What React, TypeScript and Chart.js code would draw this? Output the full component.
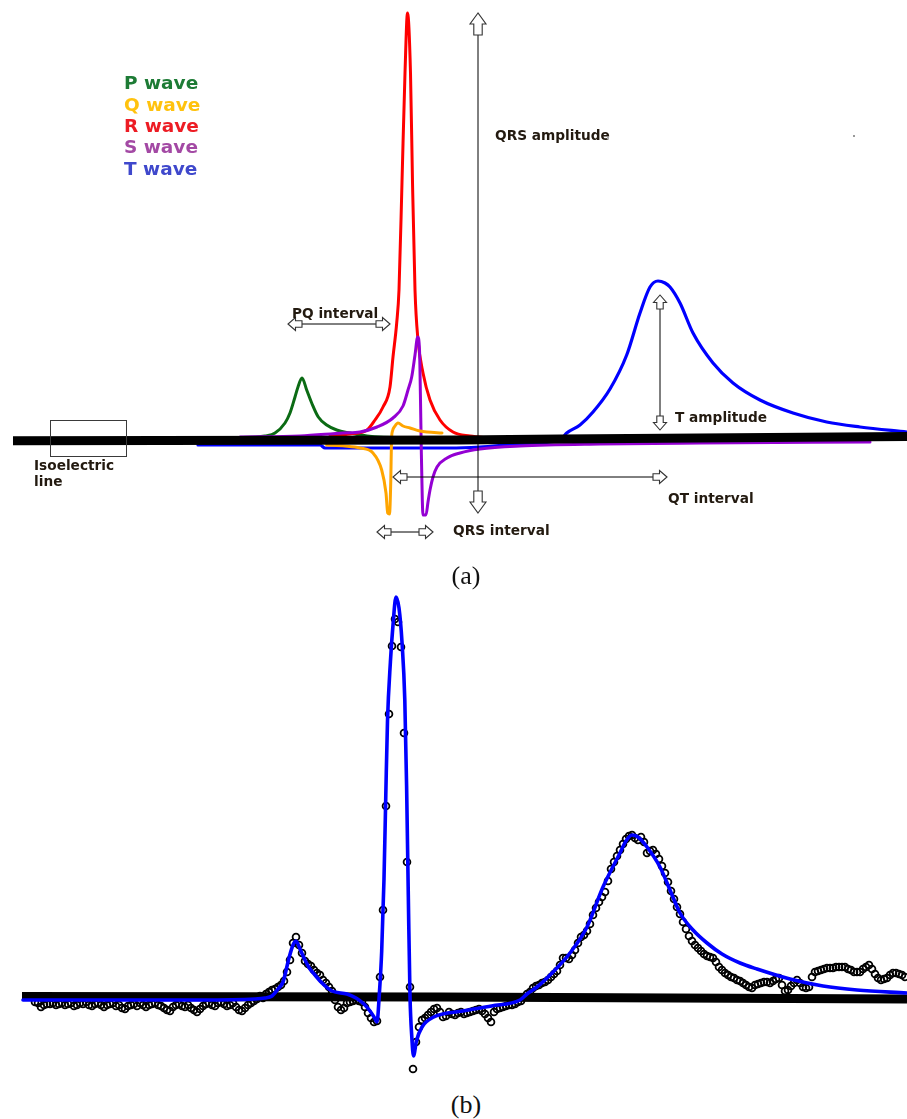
import React, { useEffect, useRef } from 'react';
import { Chart, registerables } from 'chart.js';

Chart.register(...registerables);

// ---------- Panel (a): synthetic waves (time in ms, amplitude in µV) ----------
const isoT = [13, 460, 560, 907];
const isoV = [-0.7, 0, 1, 3.5];

const pT = [200, 255, 265, 275, 285, 290, 295, 298, 302, 306.7, 311.7, 318.3, 326.7, 336.7, 350, 367, 420, 600, 860];
const pV = [2, 3, 4, 7, 17, 27, 43, 53, 62, 50, 37, 23, 15, 10, 7, 4, 2, 0, -1];

const qT = [326.7, 345, 360, 373, 381.7, 386, 387.7, 389.5, 390.8, 391.5, 392.5, 395, 398, 403, 410, 420, 427, 442];
const qV = [-5, -6, -8, -13, -30, -53, -73, -74, -40, 0, 9, 14, 17, 14, 12, 9, 8, 7];

const rT = [330, 350, 367, 375, 383, 390, 393, 396.7, 399, 402, 405, 407.5, 410.5, 412.5, 415, 418, 423, 430, 440, 453, 470, 490];
const rV = [4, 6, 10, 20, 33, 53, 83, 117, 150, 258, 367, 427, 367, 258, 150, 100, 67, 40, 20, 8, 4, 2];

const sT = [240, 300, 343, 360, 377, 393, 403, 408, 411.7, 415, 417.7, 419.5, 420.5, 421.3, 422.3, 423, 426, 428, 430, 433, 437, 447, 460, 480, 520, 600, 700, 870];
const sV = [3, 4, 7, 8, 13, 22, 34, 50, 63, 85, 103, 90, 40, -10, -60, -75, -75, -62, -50, -37, -27, -18, -13, -9, -6, -4, -3, -2];

const tT = [198, 320, 325, 450, 480, 520, 560, 566.7, 580, 593, 610, 626.7, 640, 650, 658, 665, 670, 680, 693, 713, 733, 760, 793, 826.7, 860, 907];
const tV = [-5, -5, -8, -8, -7, -4, 0, 7, 15, 28, 51, 85, 127, 153, 159, 157, 153, 137, 107, 77, 57, 40, 27, 18, 13, 8];

// annotated intervals / amplitudes (times in ms, amplitudes in µV)
const pqInterval = [288, 390, 116];
const qtInterval = [393, 667, -37];
const qrsInterval = [377, 433, -92];
const qrsAmplitude = [478, 427, -73];
const tAmplitude = [660, 145, 10];
const isoBox = [50, 126, 20, -16];

const legendNames = ['P wave', 'Q wave', 'R wave', 'S wave', 'T wave'];

// ---------- Panel (b): measured beat and fitted model ----------
const sampleStart = 35;
const sampleStep = 3;
const obsV = [
  -5, -6, -10, -8, -7, -7, -6, -8, -7, -6,
  -8, -7, -6, -9, -8, -6, -7, -5, -8, -9,
  -7, -6, -8, -10, -8, -7, -6, -9, -8, -11,
  -12, -9, -8, -7, -9, -6, -8, -10, -8, -7,
  -6, -8, -9, -11, -13, -14, -10, -8, -7, -9,
  -10, -8, -11, -13, -15, -12, -9, -7, -6, -8,
  -9, -6, -5, -7, -9, -8, -6, -10, -13, -14,
  -11, -8, -6, -4, -2, 1, -1, 3, 5, 7,
  8, 10, 12, 16, 25, 37, 54, 60, 52, 44,
  36, 33, 31, 27, 24, 22, 17, 14, 10, 6,
  -3, -10, -13, -11, -6, -5, -4, -3, -4, -5,
  -10, -16, -21, -25, -24, 20, 87, 191, 283, 351,
  378, 375, 350, 264, 135, 10, -72, -45, -30, -23,
  -21, -18, -15, -12, -11, -15, -20, -19, -15, -17,
  -18, -16, -15, -17, -16, -15, -14, -13, -12, -14,
  -17, -21, -25, -15, -12, -11, -10, -9, -8, -8,
  -7, -5, -4, 0, 3, 5, 9, 11, 12, 14,
  15, 17, 20, 23, 26, 32, 39, 39, 38, 42,
  47, 54, 60, 62, 66, 73, 82, 89, 95, 100,
  105, 116, 128, 135, 141, 147, 153, 158, 161, 162,
  159, 157, 160, 155, 144, 146, 147, 143, 138, 131,
  124, 115, 106, 98, 90, 83, 75, 68, 61, 56,
  52, 49, 46, 43, 41, 40, 39, 35, 30, 27,
  24, 22, 20, 19, 17, 16, 14, 12, 10, 9,
  12, 13, 14, 15, 15, 14, 16, 18, 19, 12,
  6, 7, 11, 14, 17, 14, 10, 9, 10, 20,
  25, 26, 27, 28, 29, 29, 29, 30, 30, 30,
  30, 28, 27, 25, 25, 25, 28, 30, 32, 28,
  23, 19, 17, 18, 19, 22, 24, 24, 23, 22,
  20,
];

const fitT = [23, 100, 200, 255, 265, 272, 278, 283, 289, 293, 296, 300, 304, 310, 315, 322, 332, 347, 356, 364, 370, 374, 377, 379.4, 381.7, 384, 385.8, 387.5, 390.4, 393, 396, 399, 402, 404.8, 406.6, 408.3, 410, 411.8, 413.5, 416.4, 422, 433.8, 462.7, 491.6, 520, 527, 537, 553, 570, 587, 603, 620, 626, 632, 638, 647, 660, 670, 680, 693, 707, 722, 740, 757, 790, 823, 857, 907];
const fitV = [-3, -3, -3, -2, -1, 1, 8, 15, 39, 52, 56, 48, 39, 28, 22, 14, 6, 3, -1, -7, -14, -20, -25, 4, 46, 118, 202, 276, 335, 372, 400, 389, 355, 297, 211, 102, 1, -40, -59, -44, -30, -20, -14, -9, -3, 3, 10, 25, 44, 70, 110, 144, 156, 162, 160, 150, 130, 107, 84, 67, 54, 43, 34, 28, 18, 11, 7, 4];

const baseBT = [22, 440, 907];
const baseBV = [0.5, 0, -2];

// ---------- styles ----------
const legendColors = ['#1d7b35', '#ffc20e', '#ed1c24', '#a349a4', '#3f48cc'];
const waveColors = { P: '#0b6b14', Q: '#ffa500', R: '#ff0000', S: '#9400d3', T: '#0000ff' };
const labelColor = '#231a10';
const labelFont = '"DejaVu Sans", Verdana, sans-serif';

const zip = (t: number[], v: number[]) => t.map((x, i) => ({ x, y: v[i] }));

const lineSet = (label: string, t: number[], v: number[], color: string, width: number, order: number, smooth = true) => ({
  label,
  data: zip(t, v),
  borderColor: color,
  backgroundColor: color,
  borderWidth: width,
  pointRadius: 0,
  fill: false,
  tension: 0,
  cubicInterpolationMode: smooth ? 'monotone' : 'default',
  borderJoinStyle: 'round',
  borderCapStyle: smooth ? 'round' : 'butt',
  order,
});

function blockArrow(ctx: CanvasRenderingContext2D, tx: number, ty: number, dx: number, dy: number, hl: number, hh: number, sl: number, sh: number) {
  const pts = [
    [0, 0], [-hl, -hh], [-hl, -sh], [-hl - sl, -sh], [-hl - sl, sh], [-hl, sh], [-hl, hh],
  ];
  ctx.beginPath();
  pts.forEach(([a, p], i) => {
    const X = tx + a * dx - p * dy;
    const Y = ty + a * dy + p * dx;
    if (i === 0) ctx.moveTo(X, Y); else ctx.lineTo(X, Y);
  });
  ctx.closePath();
  ctx.fillStyle = '#ffffff';
  ctx.fill();
  ctx.strokeStyle = '#333333';
  ctx.lineWidth = 1.1;
  ctx.stroke();
}

function doubleArrow(ctx: CanvasRenderingContext2D, x1: number, y1: number, x2: number, y2: number, size: number[]) {
  const [hl, hh, sl, sh] = size;
  const len = Math.hypot(x2 - x1, y2 - y1);
  const ux = (x2 - x1) / len;
  const uy = (y2 - y1) / len;
  ctx.beginPath();
  ctx.moveTo(x1 + ux * (hl + sl), y1 + uy * (hl + sl));
  ctx.lineTo(x2 - ux * (hl + sl), y2 - uy * (hl + sl));
  ctx.strokeStyle = '#000000';
  ctx.lineWidth = 1;
  ctx.stroke();
  blockArrow(ctx, x1, y1, -ux, -uy, hl, hh, sl, sh);
  blockArrow(ctx, x2, y2, ux, uy, hl, hh, sl, sh);
}

const annotationPlugin = {
  id: 'ecgAnnotations',
  afterDatasetsDraw(chart: any) {
    const { ctx, scales } = chart;
    const X = (v: number) => scales.x.getPixelForValue(v);
    const Y = (v: number) => scales.y.getPixelForValue(v);
    ctx.save();
    // isoelectric box
    ctx.strokeStyle = '#3a3a3a';
    ctx.lineWidth = 1;
    const bx = Math.round(X(isoBox[0])) + 0.5;
    const by = Math.round(Y(isoBox[2])) + 0.5;
    ctx.strokeRect(bx, by, Math.round(X(isoBox[1]) - X(isoBox[0])), Math.round(Y(isoBox[3]) - Y(isoBox[2])));
    const small = [7.5, 6.5, 6.5, 3.2];
    const big = [11, 8, 11, 4.2];
    doubleArrow(ctx, X(pqInterval[0]), Y(pqInterval[2]), X(pqInterval[1]), Y(pqInterval[2]), small);
    doubleArrow(ctx, X(qtInterval[0]), Y(qtInterval[2]), X(qtInterval[1]), Y(qtInterval[2]), small);
    doubleArrow(ctx, X(qrsInterval[0]), Y(qrsInterval[2]), X(qrsInterval[1]), Y(qrsInterval[2]), small);
    doubleArrow(ctx, X(qrsAmplitude[0]), Y(qrsAmplitude[1]), X(qrsAmplitude[0]), Y(qrsAmplitude[2]), big);
    doubleArrow(ctx, X(tAmplitude[0]), Y(tAmplitude[1]), X(tAmplitude[0]), Y(tAmplitude[2]), small);
    ctx.restore();
  },
};

const baseOptions = (ymin: number, ymax: number) => ({
  animation: false,
  responsive: false,
  maintainAspectRatio: false,
  events: [],
  layout: { padding: 0, autoPadding: false },
  plugins: { legend: { display: false }, tooltip: { enabled: false } },
  scales: {
    x: { type: 'linear', min: 0, max: 907, display: false },
    y: { type: 'linear', min: ymin, max: ymax, display: false },
  },
});

const Label = ({ left, top, size = 13.7, color = labelColor, children }: any) => (
  <div
    style={{
      position: 'absolute', left, top, fontSize: size, lineHeight: 1, fontWeight: 'bold',
      color, fontFamily: labelFont, whiteSpace: 'nowrap',
    }}
  >
    {children}
  </div>
);

const Caption = ({ top, children }: any) => (
  <div
    style={{
      position: 'absolute', left: 416, width: 100, top, textAlign: 'center', fontSize: 26,
      lineHeight: 1, fontFamily: '"Liberation Serif", "DejaVu Serif", serif', color: '#111',
    }}
  >
    {children}
  </div>
);

export default function App() {
  const refA = useRef<HTMLCanvasElement>(null);
  const refB = useRef<HTMLCanvasElement>(null);

  useEffect(() => {
    const chartA = new Chart(refA.current as HTMLCanvasElement, {
      type: 'line',
      data: {
        datasets: [
          lineSet('Isoelectric line', isoT, isoV, '#000000', 9, 0, false),
          lineSet('Q wave', qT, qV, waveColors.Q, 3, 1),
          lineSet('S wave', sT, sV, waveColors.S, 3, 2),
          lineSet('R wave', rT, rV, waveColors.R, 3, 3),
          lineSet('P wave', pT, pV, waveColors.P, 3, 4),
          lineSet('T wave', tT, tV, waveColors.T, 3.2, 5),
        ] as any,
      },
      options: baseOptions(-120, 440) as any,
      plugins: [annotationPlugin],
    });

    const obs = obsV.map((v, i) => ({ x: sampleStart + sampleStep * i, y: v }));
    const chartB = new Chart(refB.current as HTMLCanvasElement, {
      type: 'line',
      data: {
        datasets: [
          lineSet('Model fit', fitT, fitV, '#0000ff', 3.6, 0),
          lineSet('Baseline', baseBT, baseBV, '#000000', 9, 1, false),
          {
            label: 'Measured ECG',
            data: obs,
            showLine: false,
            pointRadius: 3.4,
            pointBorderWidth: 1.8,
            pointBorderColor: '#000000',
            pointBackgroundColor: 'rgba(255,255,255,0)',
            order: 2,
          },
        ] as any,
      },
      options: baseOptions(-88, 412) as any,
    });

    return () => {
      chartA.destroy();
      chartB.destroy();
    };
  }, []);

  const legendTops = [74, 95.5, 116.5, 138, 159.5];

  return (
    <div style={{ position: 'absolute', left: 0, top: 0, width: 907, height: 1119, background: '#fff', overflow: 'hidden' }}>
      <canvas ref={refA} width={907} height={560} style={{ position: 'absolute', left: 0, top: 0 }} />
      <canvas ref={refB} width={907} height={500} style={{ position: 'absolute', left: 0, top: 585 }} />

      {legendNames.map((n, i) => (
        <Label key={n} left={124} top={legendTops[i]} size={18.5} color={legendColors[i]}>{n}</Label>
      ))}

      <Label left={495} top={128.5}>QRS amplitude</Label>
      <div style={{ position: 'absolute', left: 607, top: 137, width: 2, height: 2, background: '#aaa' }} />
      <div style={{ position: 'absolute', left: 853, top: 135, width: 1.5, height: 2, background: '#999' }} />
      <Label left={292} top={306.5}>PQ interval</Label>
      <Label left={675} top={411}>T amplitude</Label>
      <Label left={668} top={491.5}>QT interval</Label>
      <Label left={453} top={523.5}>QRS interval</Label>
      <Label left={34} top={458.5}>Isoelectric</Label>
      <Label left={34} top={474.5}>line</Label>

      <Caption top={562.5}>(a)</Caption>
      <Caption top={1091.5}>(b)</Caption>
    </div>
  );
}
